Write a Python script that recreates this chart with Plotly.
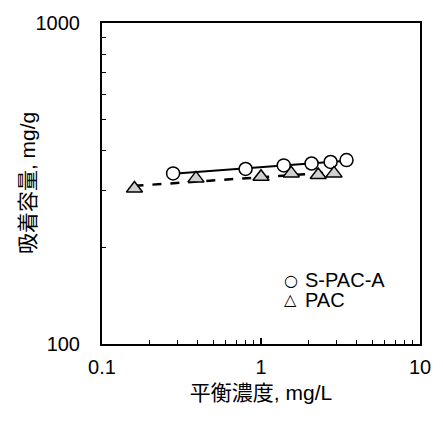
import numpy as np
import plotly.graph_objects as go

spac_x = [0.28, 0.80, 1.39, 2.08, 2.74, 3.45]
spac_y = [340, 351, 360, 365, 369, 374]
pac_x = [0.16, 0.39, 1.00, 1.55, 2.29, 2.88]
pac_y = [305, 328, 332, 340, 336, 340]
x_ticks = [0.1, 1, 10]
x_ticktext = ["0.1", "1", "10"]
y_ticks = [100, 1000]
y_ticktext = ["100", "1000"]
x_minor = [m * d for d in (0.1, 1) for m in range(2, 10)]
y_minor = [m * 100 for m in range(2, 10)]
legend_symbols = ["○", "△"]
legend_labels = ["S-PAC-A", "PAC"]

def fit_line(xs, ys):
    k, b = np.polyfit(np.log10(xs), np.log10(ys), 1)
    xx = np.array([min(xs), max(xs)])
    return xx, 10 ** (b + k * np.log10(xx))

FONT = "Liberation Sans, Arial, Noto Sans CJK JP"

fig = go.Figure()
fx, fy = fit_line(spac_x, spac_y)
fig.add_trace(go.Scatter(x=fx, y=fy, mode="lines", line=dict(color="black", width=2),
                         showlegend=False, hoverinfo="skip"))
px_, py_ = fit_line(pac_x, pac_y)
fig.add_trace(go.Scatter(x=px_, y=py_, mode="lines",
                         line=dict(color="black", width=2.5, dash="dash"),
                         showlegend=False, hoverinfo="skip"))
fig.add_trace(go.Scatter(x=spac_x, y=spac_y, mode="markers", name="S-PAC-A",
                         showlegend=False,
                         marker=dict(symbol="circle", size=13, color="white",
                                     line=dict(color="black", width=1.5))))
fig.add_trace(go.Scatter(x=pac_x, y=pac_y, mode="markers", name="PAC",
                         showlegend=False,
                         marker=dict(symbol="triangle-up", size=14, color="#d0d0d0",
                                     line=dict(color="black", width=1.5))))

axis_common = dict(type="log", showline=True, linecolor="black", linewidth=2,
                   mirror=True, ticks="inside", ticklen=6, tickwidth=1.5,
                   tickcolor="black", showgrid=False, zeroline=False,
                   tickfont=dict(family=FONT, size=20, color="black"))
minor_common = dict(ticks="inside", ticklen=4, tickcolor="black", tickwidth=1, showgrid=False)

fig.update_xaxes(range=[-1, 1], tickvals=x_ticks, ticktext=x_ticktext,
                 ticklabelstandoff=4,
                 minor=dict(tickvals=x_minor, **minor_common),
                 title=dict(text="平衡濃度, mg/L", font=dict(family=FONT, size=21, color="black"),
                            standoff=8),
                 **axis_common)
fig.update_yaxes(range=[2, 3], tickvals=y_ticks, ticktext=y_ticktext,
                 ticklabelstandoff=16,
                 minor=dict(tickvals=y_minor, **minor_common),
                 **axis_common)

fig.add_annotation(text="吸着容量, mg/g", xref="paper", yref="paper", x=-0.234, y=0.5,
                   xanchor="center", yanchor="middle", textangle=-90, showarrow=False,
                   font=dict(family=FONT, size=21, color="black"))

for sym, label, yp in zip(legend_symbols, legend_labels, [0.199, 0.138]):
    fig.add_annotation(text=sym, xref="paper", yref="paper", x=0.593, y=yp,
                       xanchor="center", yanchor="middle", showarrow=False,
                       font=dict(family="DejaVu Sans", size=16, color="black"))
    fig.add_annotation(text=label, xref="paper", yref="paper", x=0.632, y=yp,
                       xanchor="left", yanchor="middle", showarrow=False,
                       font=dict(family=FONT, size=20, color="black"))

fig.update_layout(width=443, height=422, margin=dict(l=102, r=13, t=17, b=78),
                  paper_bgcolor="white", plot_bgcolor="white",
                  font=dict(family=FONT, color="black"), showlegend=False)

fig.write_html("out.html")
